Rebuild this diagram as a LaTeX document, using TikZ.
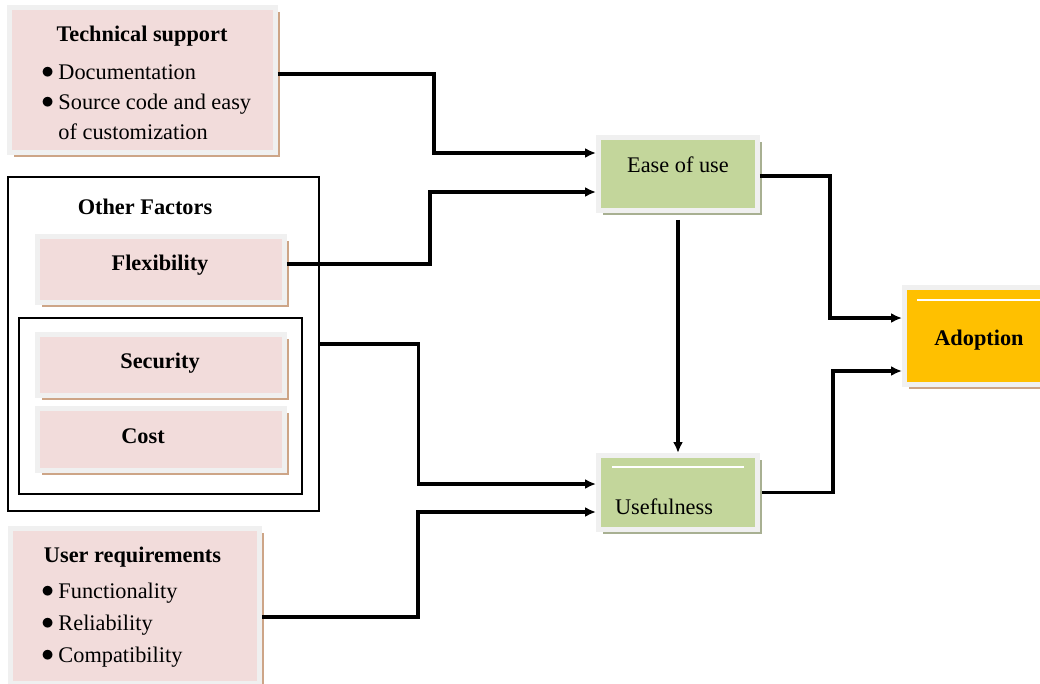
\documentclass[tikz,border=0pt]{standalone}
\usepackage{fontspec}
\setmainfont{Liberation Serif}
\usetikzlibrary{arrows.meta, positioning, shadows}
\definecolor{boxpink}{HTML}{F2DCDB}
\definecolor{boxgreen}{HTML}{C3D69B}
\definecolor{boxgold}{HTML}{FFC000}
\definecolor{rimgray}{RGB}{240,240,240}
\definecolor{tanshadow}{RGB}{205,165,135}
\definecolor{oliveshadow}{RGB}{168,176,146}
\newcommand{\itemdot}{\raisebox{0.04em}{\Large$\bullet$}\hspace{0.2em}}

\begin{document}
\begin{tikzpicture}[x=0.02cm,y=-0.02cm,>={Latex[length=0.22cm,width=0.2cm]},font=\fontsize{12.7}{17}\selectfont]
    \tikzstyle{factor}=[shape=rectangle,draw=rimgray,line width=0.1cm,fill=boxpink,
        drop shadow={shadow xshift=0.09cm,shadow yshift=-0.09cm,fill=tanshadow,opacity=1}]
    \tikzstyle{outcome}=[factor,fill=boxgreen,
        drop shadow={shadow xshift=0.09cm,shadow yshift=-0.09cm,fill=oliveshadow,opacity=1}]
    \tikzstyle{frame}=[shape=rectangle,draw=black,line width=0.8pt]
    \tikzstyle{bullets}=[anchor=west,align=left,inner sep=0pt]
    \tikzstyle{link}=[->,draw,line width=0.065cm]

    \useasboundingbox (0,0) rectangle (1040,683);

    % left column
    \node[factor, minimum width=5.32cm, minimum height=2.9cm] (ts) at (142.5,80) {};
    \node (tsTitle) at (142,36) {\textbf{Technical support}};
    \node[bullets] (tsList) at (41,102) {\itemdot Documentation\\ \itemdot Source code and easy\\ \phantom{\itemdot}of customization};

    \node[frame, minimum width=6.22cm, minimum height=6.68cm] (other) at (163.5,344) {};
    \node (otherTitle) at (145,207) {\textbf{Other Factors}};
    \node[factor, minimum width=4.94cm, minimum height=1.32cm] (flex) at (161,269.5) {};
    \node (flexText) at (160,265) {\textbf{Flexibility}};
    \node[frame, minimum width=5.66cm, minimum height=3.52cm] (inner) at (160.5,406) {};
    \node[factor, minimum width=4.94cm, minimum height=1.22cm] (sec) at (161,365) {};
    \node (secText) at (160,363) {\textbf{Security}};
    \node[factor, minimum width=4.94cm, minimum height=1.24cm] (cost) at (161,439.5) {};
    \node (costText) at (143,436) {\textbf{Cost}};

    \node[factor, minimum width=4.98cm, minimum height=3.1cm] (ur) at (135,606) {};
    \node (urTitle) at (132.5,557) {\textbf{User requirements}};
    \node[bullets, font=\fontsize{12.7}{18.1}\selectfont] (urList) at (41,625) {\itemdot Functionality\\ \itemdot Reliability\\ \itemdot Compatibility};

    % middle and right
    \node[outcome, minimum width=3.18cm, minimum height=1.46cm] (ease) at (678,174) {};
    \node (easeText) at (678,165) {Ease of use};
    \node[outcome, minimum width=3.18cm, minimum height=1.48cm] (useful) at (678,492.5) {};
    \draw[white, line width=0.04cm] ([xshift=0.32cm,yshift=-0.28cm]useful.north west) -- ([xshift=-0.32cm,yshift=-0.28cm]useful.north east);
    \node (usefulText) at (664,507) {Usefulness};
    \node[factor, fill=boxgold, minimum width=2.98cm, minimum height=1.94cm] (adopt) at (979,336) {};
    \draw[white, line width=0.04cm] ([xshift=0.3cm,yshift=-0.3cm]adopt.north west) -- ([yshift=-0.3cm]adopt.north east);
    \node (adoptText) at (979,340) {\textbf{Adoption}};

    % connectors
    \draw[link] ([yshift=0.12cm]ts.east) -- ++(156,0) |- ([yshift=0.42cm]ease.west);
    \draw[link] ([yshift=0.11cm]flex.east) -- ++(143,0) |- ([yshift=-0.36cm]ease.west);
    \draw[link] (other.east) -- ++(99,0) |- ([yshift=0.17cm]useful.west);
    \draw[link] ([yshift=-0.22cm]ur.east) -- ++(156,0) |- ([yshift=-0.39cm]useful.west);
    \draw[link] ([yshift=-0.14cm]ease.south) -- (useful.north);
    \draw[link] ([yshift=-0.04cm]ease.east) -- ++(70,0) |- ([yshift=0.36cm]adopt.west);
    \draw[link] ([xshift=0.04cm]useful.east) -- ++(71,0) |- ([yshift=-0.7cm]adopt.west);
\end{tikzpicture}
\end{document}
